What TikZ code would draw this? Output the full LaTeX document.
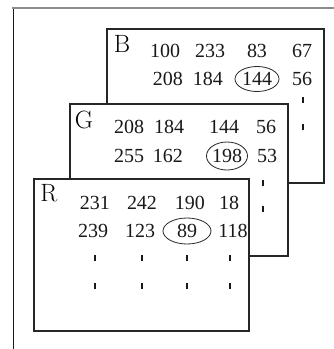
\documentclass[tikz,border=0pt]{standalone}
\usepackage{fontspec}
\newfontfamily\numfont{Liberation Serif}
\usetikzlibrary{shapes.geometric}
\begin{document}
\begin{tikzpicture}[x=1pt,y=-1pt,
  plane/.style={draw=black!85,line width=1.5pt,fill=white},
  val/.style={inner sep=0pt,font=\numfont\fontsize{20}{20}\selectfont,text=black!90},
  chan/.style={inner sep=0pt,font=\fontsize{25}{25}\selectfont,text=black},
  ring/.style={draw=black!85,line width=0.8pt},
  tick/.style={draw=black!90,line width=1.2pt},
  edge/.style={line width=1pt}]
\useasboundingbox (0,0) rectangle (334,349);
% page edges
\draw[edge,draw=black!45,line width=1.4pt] (12,8) -- (334,8);
\draw[edge,draw=black!90] (13,9) -- (13,349);

% blue plane
\draw[plane] (107,29) rectangle (324,183);
\node[chan] (B) at (122,44) {B};
\node[val] (b11) at (165,51) {100};
\node[val] (b12) at (210,51) {233};
\node[val] (b13) at (257,51) {83};
\node[val] (b14) at (302,51) {67};
\node[val] (b21) at (168,79) {208};
\node[val] (b22) at (208,79) {184};
\node[val] (b23) at (257,79) {144};
\node[val] (b24) at (302,79) {56};
\draw[ring] (b23) ellipse [x radius=22pt, y radius=12.5pt];
\draw[tick] (303,97) -- (303,103);
\draw[tick] (303,124) -- (303,130);

% green plane
\draw[plane] (70,104) rectangle (288,256);
\node[chan] (G) at (84,120) {G};
\node[val] (g11) at (129,127) {208};
\node[val] (g12) at (169,127) {184};
\node[val] (g13) at (224,127) {144};
\node[val] (g14) at (266,127) {56};
\node[val] (g21) at (129,156) {255};
\node[val] (g22) at (168,156) {162};
\node[val] (g23) at (227,156) {198};
\node[val] (g24) at (267,156) {53};
\draw[ring] (g23) ellipse [x radius=20.5pt, y radius=14pt];
\draw[tick] (263,180) -- (263,186);
\draw[tick] (263,206) -- (263,212);

% red plane
\draw[plane] (34,179) rectangle (249,331);
\node[chan] (R) at (49,193) {R};
\node[val] (r11) at (95,203) {231};
\node[val] (r12) at (142,203) {242};
\node[val] (r13) at (190,203) {190};
\node[val] (r14) at (229,203) {18};
\node[val] (r21) at (93,231) {239};
\node[val] (r22) at (140,231) {123};
\node[val] (r23) at (187,231) {89};
\node[val] (r24) at (233,231) {118};
\draw[ring] (r23) ellipse [x radius=24pt, y radius=13pt];
\foreach \c in {95,142,187,230}{
  \draw[tick] (\c,255) -- (\c,261);
  \draw[tick] (\c,283) -- (\c,289);
}
\end{tikzpicture}
\end{document}
